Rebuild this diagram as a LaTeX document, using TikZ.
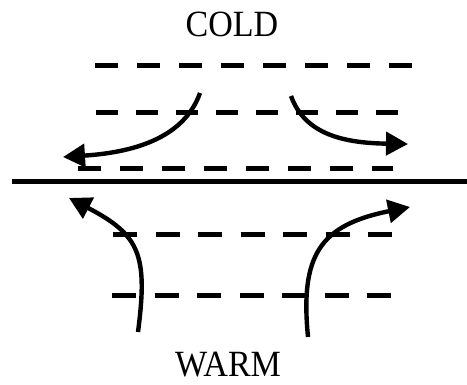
\documentclass[tikz,border=0pt]{standalone}
\usepackage{fontspec}
\setmainfont{Liberation Serif}
\usetikzlibrary{arrows.meta}

\begin{document}
\begin{tikzpicture}[x=1pt, y=-1pt,
    dashrow/.style={line width=5pt, dash pattern=on 23pt off 19pt},
    flowarrow/.style={line width=4.4pt, -{Triangle[length=22pt,width=23pt]}},
    tagtext/.style={font=\fontsize{37}{40}\selectfont, anchor=base}]
    \useasboundingbox (0,0) rectangle (467,385);
    \node[tagtext] (cold) at (232,37) {\scalebox{0.92}[1]{COLD}};
    \node[tagtext] (warm) at (228,377) {\scalebox{0.92}[1]{WARM}};
    \draw[dashrow] (95,66) -- (412,66);
    \draw[dashrow, dash pattern=on 22pt off 18pt] (96,113) -- (403,113);
    \draw[dashrow] (78,169) -- (393,169);
    \draw[line width=5pt] (12,182) -- (467,182);
    \draw[dashrow, dash pattern=on 24pt off 18.5pt] (113,235) -- (393,235);
    \draw[dashrow, dash pattern=on 24pt off 18.5pt] (112,296) -- (393,296);
    \draw[flowarrow] (200,93) .. controls (185,135) and (140,152) .. (63,157);
    \draw[flowarrow] (291,96) .. controls (305,135) and (345,143) .. (408,144);
    \draw[flowarrow] (138,332) .. controls (148,255) and (140,235) .. (69,198);
    \draw[flowarrow] (308,337) .. controls (300,255) and (320,225) .. (410,207);
\end{tikzpicture}
\end{document}
